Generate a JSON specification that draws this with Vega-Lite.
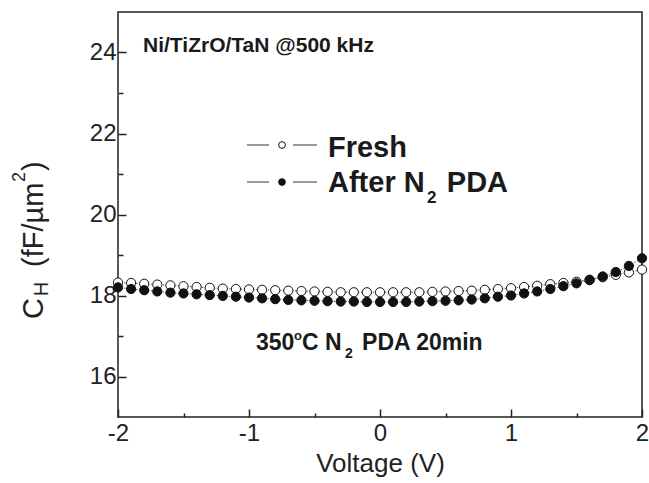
{
  "$schema": "https://vega.github.io/schema/vega-lite/v6.json",
  "width": 524,
  "height": 405,
  "autosize": {"type": "none"},
  "padding": {"left": 118, "top": 12, "right": 7, "bottom": 66},
  "background": "white",
  "config": {
    "view": {"stroke": "#222", "strokeWidth": 1.5},
    "font": "Liberation Sans",
    "axis": {"domain": false, "grid": false, "tickColor": "#222", "tickWidth": 1.5, "labelColor": "#222", "labelFont": "Liberation Sans", "labelFontSize": 24, "titleFont": "Liberation Sans", "titleColor": "#222", "titleFontWeight": "normal"}
  },
  "data": {"values": [
    {"V":-2.0,"C":18.32,"s":"Fresh"},{"V":-1.9,"C":18.31,"s":"Fresh"},{"V":-1.8,"C":18.29,"s":"Fresh"},{"V":-1.7,"C":18.27,"s":"Fresh"},{"V":-1.6,"C":18.25,"s":"Fresh"},
    {"V":-1.5,"C":18.23,"s":"Fresh"},{"V":-1.4,"C":18.21,"s":"Fresh"},{"V":-1.3,"C":18.19,"s":"Fresh"},{"V":-1.2,"C":18.17,"s":"Fresh"},{"V":-1.1,"C":18.16,"s":"Fresh"},
    {"V":-1.0,"C":18.15,"s":"Fresh"},{"V":-0.9,"C":18.14,"s":"Fresh"},{"V":-0.8,"C":18.13,"s":"Fresh"},{"V":-0.7,"C":18.12,"s":"Fresh"},{"V":-0.6,"C":18.11,"s":"Fresh"},
    {"V":-0.5,"C":18.10,"s":"Fresh"},{"V":-0.4,"C":18.09,"s":"Fresh"},{"V":-0.3,"C":18.08,"s":"Fresh"},{"V":-0.2,"C":18.08,"s":"Fresh"},{"V":-0.1,"C":18.08,"s":"Fresh"},
    {"V":0.0,"C":18.08,"s":"Fresh"},{"V":0.1,"C":18.08,"s":"Fresh"},{"V":0.2,"C":18.08,"s":"Fresh"},{"V":0.3,"C":18.08,"s":"Fresh"},{"V":0.4,"C":18.09,"s":"Fresh"},
    {"V":0.5,"C":18.10,"s":"Fresh"},{"V":0.6,"C":18.11,"s":"Fresh"},{"V":0.7,"C":18.12,"s":"Fresh"},{"V":0.8,"C":18.14,"s":"Fresh"},{"V":0.9,"C":18.16,"s":"Fresh"},
    {"V":1.0,"C":18.18,"s":"Fresh"},{"V":1.1,"C":18.21,"s":"Fresh"},{"V":1.2,"C":18.24,"s":"Fresh"},{"V":1.3,"C":18.28,"s":"Fresh"},{"V":1.4,"C":18.31,"s":"Fresh"},
    {"V":1.5,"C":18.34,"s":"Fresh"},{"V":1.6,"C":18.39,"s":"Fresh"},{"V":1.7,"C":18.45,"s":"Fresh"},{"V":1.8,"C":18.51,"s":"Fresh"},{"V":1.9,"C":18.57,"s":"Fresh"},
    {"V":2.0,"C":18.64,"s":"Fresh"},
    {"V":-2.0,"C":18.20,"s":"After"},{"V":-1.9,"C":18.16,"s":"After"},{"V":-1.8,"C":18.13,"s":"After"},{"V":-1.7,"C":18.10,"s":"After"},{"V":-1.6,"C":18.07,"s":"After"},
    {"V":-1.5,"C":18.05,"s":"After"},{"V":-1.4,"C":18.03,"s":"After"},{"V":-1.3,"C":18.01,"s":"After"},{"V":-1.2,"C":17.99,"s":"After"},{"V":-1.1,"C":17.97,"s":"After"},
    {"V":-1.0,"C":17.95,"s":"After"},{"V":-0.9,"C":17.93,"s":"After"},{"V":-0.8,"C":17.91,"s":"After"},{"V":-0.7,"C":17.89,"s":"After"},{"V":-0.6,"C":17.88,"s":"After"},
    {"V":-0.5,"C":17.87,"s":"After"},{"V":-0.4,"C":17.86,"s":"After"},{"V":-0.3,"C":17.85,"s":"After"},{"V":-0.2,"C":17.85,"s":"After"},{"V":-0.1,"C":17.84,"s":"After"},
    {"V":0.0,"C":17.84,"s":"After"},{"V":0.1,"C":17.84,"s":"After"},{"V":0.2,"C":17.84,"s":"After"},{"V":0.3,"C":17.85,"s":"After"},{"V":0.4,"C":17.86,"s":"After"},
    {"V":0.5,"C":17.87,"s":"After"},{"V":0.6,"C":17.88,"s":"After"},{"V":0.7,"C":17.90,"s":"After"},{"V":0.8,"C":17.93,"s":"After"},{"V":0.9,"C":17.97,"s":"After"},
    {"V":1.0,"C":18.00,"s":"After"},{"V":1.1,"C":18.05,"s":"After"},{"V":1.2,"C":18.10,"s":"After"},{"V":1.3,"C":18.16,"s":"After"},{"V":1.4,"C":18.23,"s":"After"},
    {"V":1.5,"C":18.30,"s":"After"},{"V":1.6,"C":18.38,"s":"After"},{"V":1.7,"C":18.47,"s":"After"},{"V":1.8,"C":18.58,"s":"After"},{"V":1.9,"C":18.73,"s":"After"},
    {"V":2.0,"C":18.92,"s":"After"}
  ]},
  "layer": [
    {
      "mark": {"type": "line", "stroke": "#555", "strokeWidth": 1, "strokeDash": [1.5, 1.5]},
      "encoding": {
        "x": {"field": "V", "type": "quantitative", "scale": {"domain": [-2, 2], "nice": false, "zero": false},
              "axis": {"values": [-2, -1.5, -1, -0.5, 0, 0.5, 1, 1.5, 2], "labelExpr": "datum.value % 1 === 0 ? '' + datum.value : ''",
                       "tickSize": {"condition": {"test": "datum.value % 1 !== 0", "value": -4}, "value": -8},
                       "labelPadding": 12, "labelFlush": false, "labelOverlap": false,
                       "title": "Voltage (V)", "titleFontSize": 26, "titlePadding": 1}},
        "y": {"field": "C", "type": "quantitative", "scale": {"domain": [15, 25], "nice": false, "zero": false},
              "axis": {"values": [16, 17, 18, 19, 20, 21, 22, 23, 24], "labelExpr": "datum.value % 2 === 0 ? '' + datum.value : ''",
                       "tickSize": {"condition": {"test": "datum.value % 2 !== 0", "value": -5}, "value": -8},
                       "labelPadding": 10, "labelOverlap": false, "title": null}},
        "detail": {"field": "s"}
      }
    },
    {
      "transform": [{"filter": "datum.s === 'Fresh'"}],
      "mark": {"type": "point", "shape": "circle", "filled": true, "fill": "white", "stroke": "#111", "strokeWidth": 1, "size": 85, "opacity": 1},
      "encoding": {"x": {"field": "V", "type": "quantitative"}, "y": {"field": "C", "type": "quantitative"}}
    },
    {
      "transform": [{"filter": "datum.s === 'After'"}],
      "mark": {"type": "point", "shape": "circle", "filled": true, "fill": "#111", "stroke": "#111", "strokeWidth": 1, "size": 85, "opacity": 1},
      "encoding": {"x": {"field": "V", "type": "quantitative"}, "y": {"field": "C", "type": "quantitative"}}
    },
    {
      "data": {"values": [{}]},
      "mark": {"type": "rule", "stroke": "#333", "strokeWidth": 1},
      "encoding": {"x": {"datum": -1.015, "type": "quantitative"}, "x2": {"datum": -0.847}, "y": {"datum": 21.716, "type": "quantitative"}}
    },
    {
      "data": {"values": [{}]},
      "mark": {"type": "rule", "stroke": "#333", "strokeWidth": 1},
      "encoding": {"x": {"datum": -0.664, "type": "quantitative"}, "x2": {"datum": -0.481}, "y": {"datum": 21.716, "type": "quantitative"}}
    },
    {
      "data": {"values": [{}]},
      "mark": {"type": "rule", "stroke": "#333", "strokeWidth": 1},
      "encoding": {"x": {"datum": -1.015, "type": "quantitative"}, "x2": {"datum": -0.847}, "y": {"datum": 20.802, "type": "quantitative"}}
    },
    {
      "data": {"values": [{}]},
      "mark": {"type": "rule", "stroke": "#333", "strokeWidth": 1},
      "encoding": {"x": {"datum": -0.664, "type": "quantitative"}, "x2": {"datum": -0.481}, "y": {"datum": 20.802, "type": "quantitative"}}
    },
    {
      "data": {"values": [{}]},
      "mark": {"type": "point", "shape": "circle", "filled": true, "fill": "white", "stroke": "#111", "strokeWidth": 1, "size": 45, "opacity": 1},
      "encoding": {"x": {"datum": -0.748, "type": "quantitative"}, "y": {"datum": 21.716, "type": "quantitative"}}
    },
    {
      "data": {"values": [{}]},
      "mark": {"type": "point", "shape": "circle", "filled": true, "fill": "#111", "stroke": "#111", "strokeWidth": 1, "size": 45, "opacity": 1},
      "encoding": {"x": {"datum": -0.748, "type": "quantitative"}, "y": {"datum": 20.802, "type": "quantitative"}}
    },
    {
      "data": {"values": [{}]},
      "mark": {"type": "text", "text": "Fresh", "font": "Liberation Sans", "fontWeight": "bold", "fontSize": 29, "fill": "#1a1a1a", "align": "left", "baseline": "alphabetic"},
      "encoding": {"x": {"datum": -0.397, "type": "quantitative"}, "y": {"datum": 21.42, "type": "quantitative"}}
    },
    {
      "data": {"values": [{}]},
      "mark": {"type": "text", "text": "After N", "font": "Liberation Sans", "fontWeight": "bold", "fontSize": 29, "fill": "#1a1a1a", "align": "left", "baseline": "alphabetic"},
      "encoding": {"x": {"datum": -0.397, "type": "quantitative"}, "y": {"datum": 20.556, "type": "quantitative"}}
    },
    {
      "data": {"values": [{}]},
      "mark": {"type": "text", "text": "2", "font": "Liberation Sans", "fontWeight": "bold", "fontSize": 17, "fill": "#1a1a1a", "align": "left", "baseline": "alphabetic"},
      "encoding": {"x": {"datum": 0.359, "type": "quantitative"}, "y": {"datum": 20.284, "type": "quantitative"}}
    },
    {
      "data": {"values": [{}]},
      "mark": {"type": "text", "text": "PDA", "font": "Liberation Sans", "fontWeight": "bold", "fontSize": 29, "fill": "#1a1a1a", "align": "left", "baseline": "alphabetic"},
      "encoding": {"x": {"datum": 0.51, "type": "quantitative"}, "y": {"datum": 20.556, "type": "quantitative"}}
    },
    {
      "data": {"values": [{}]},
      "mark": {"type": "text", "text": "Ni/TiZrO/TaN @500 kHz", "font": "Liberation Sans", "fontWeight": "bold", "fontSize": 21, "fill": "#1a1a1a", "align": "left", "baseline": "alphabetic"},
      "encoding": {"x": {"datum": -1.809, "type": "quantitative"}, "y": {"datum": 24.012, "type": "quantitative"}}
    },
    {
      "data": {"values": [{}]},
      "mark": {"type": "text", "text": "350", "font": "Liberation Sans", "fontWeight": "bold", "fontSize": 23, "fill": "#1a1a1a", "align": "left", "baseline": "alphabetic"},
      "encoding": {"x": {"datum": -0.947, "type": "quantitative"}, "y": {"datum": 16.654, "type": "quantitative"}}
    },
    {
      "data": {"values": [{}]},
      "mark": {"type": "text", "text": "o", "font": "Liberation Sans", "fontWeight": "bold", "fontSize": 13, "fill": "#1a1a1a", "align": "left", "baseline": "alphabetic"},
      "encoding": {"x": {"datum": -0.657, "type": "quantitative"}, "y": {"datum": 16.901, "type": "quantitative"}}
    },
    {
      "data": {"values": [{}]},
      "mark": {"type": "text", "text": "C N", "font": "Liberation Sans", "fontWeight": "bold", "fontSize": 23, "fill": "#1a1a1a", "align": "left", "baseline": "alphabetic"},
      "encoding": {"x": {"datum": -0.595, "type": "quantitative"}, "y": {"datum": 16.654, "type": "quantitative"}}
    },
    {
      "data": {"values": [{}]},
      "mark": {"type": "text", "text": "2", "font": "Liberation Sans", "fontWeight": "bold", "fontSize": 14, "fill": "#1a1a1a", "align": "left", "baseline": "alphabetic"},
      "encoding": {"x": {"datum": -0.267, "type": "quantitative"}, "y": {"datum": 16.457, "type": "quantitative"}}
    },
    {
      "data": {"values": [{}]},
      "mark": {"type": "text", "text": "PDA 20min", "font": "Liberation Sans", "fontWeight": "bold", "fontSize": 23, "fill": "#1a1a1a", "align": "left", "baseline": "alphabetic"},
      "encoding": {"x": {"datum": -0.137, "type": "quantitative"}, "y": {"datum": 16.654, "type": "quantitative"}}
    },
    {
      "data": {"values": [{}]},
      "mark": {"type": "text", "text": "C", "font": "Liberation Sans", "fontSize": 29, "fill": "#222", "align": "left", "baseline": "alphabetic", "angle": 270},
      "encoding": {"x": {"datum": -2.5725, "type": "quantitative"}, "y": {"datum": 17.42, "type": "quantitative"}}
    },
    {
      "data": {"values": [{}]},
      "mark": {"type": "text", "text": "H", "font": "Liberation Sans", "fontSize": 20, "fill": "#222", "align": "left", "baseline": "alphabetic", "angle": 270},
      "encoding": {"x": {"datum": -2.535, "type": "quantitative"}, "y": {"datum": 17.98, "type": "quantitative"}}
    },
    {
      "data": {"values": [{}]},
      "mark": {"type": "text", "text": "(fF/µm", "font": "Liberation Sans", "fontSize": 29, "fill": "#222", "align": "left", "baseline": "alphabetic", "angle": 270},
      "encoding": {"x": {"datum": -2.5725, "type": "quantitative"}, "y": {"datum": 18.704, "type": "quantitative"}}
    },
    {
      "data": {"values": [{}]},
      "mark": {"type": "text", "text": "2", "font": "Liberation Sans", "fontSize": 18, "fill": "#222", "align": "left", "baseline": "alphabetic", "angle": 270},
      "encoding": {"x": {"datum": -2.71, "type": "quantitative"}, "y": {"datum": 20.802, "type": "quantitative"}}
    },
    {
      "data": {"values": [{}]},
      "mark": {"type": "text", "text": ")", "font": "Liberation Sans", "fontSize": 29, "fill": "#222", "align": "left", "baseline": "alphabetic", "angle": 270},
      "encoding": {"x": {"datum": -2.5725, "type": "quantitative"}, "y": {"datum": 21.074, "type": "quantitative"}}
    }
  ]
}
